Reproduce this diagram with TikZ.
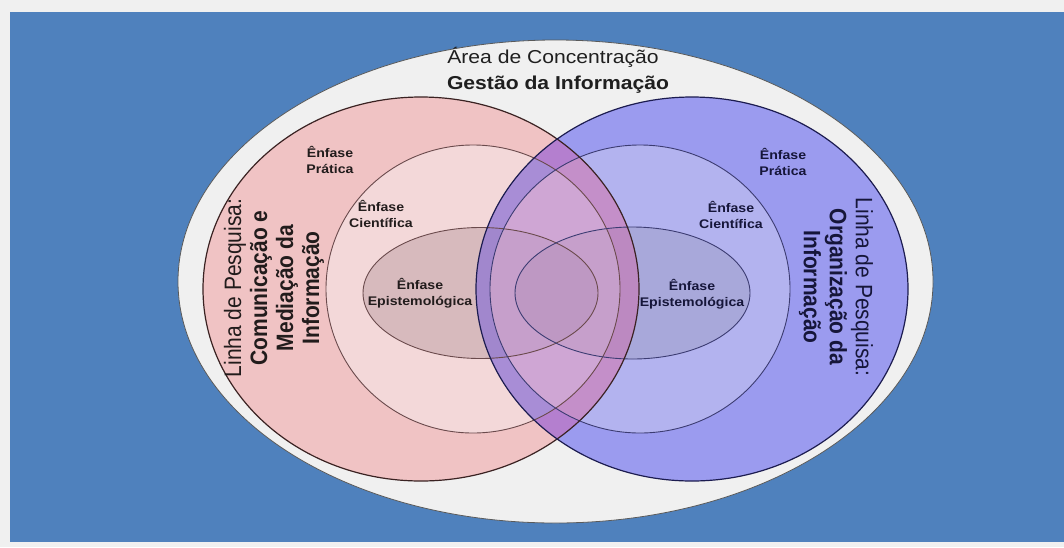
\documentclass[tikz,border=0pt]{standalone}
\usepackage{fontspec}
\setmainfont{Liberation Sans}
\usepackage{graphicx}
\definecolor{bggrey}{HTML}{F0F0F0}
\definecolor{panelblue}{HTML}{4F81BD}
\definecolor{ovalfill}{HTML}{F0F0F0}
\definecolor{ovalline}{HTML}{5A5A5A}
\definecolor{pinkO}{HTML}{F0C3C4}
\definecolor{pinkM}{HTML}{F3D8D9}
\definecolor{pinkI}{HTML}{D7BABD}
\definecolor{blueO}{HTML}{9B9BEF}
\definecolor{blueM}{HTML}{B3B3EF}
\definecolor{blueI}{HTML}{A8A8DA}
\definecolor{lensO}{HTML}{B47FCF}
\definecolor{lensLm}{HTML}{A88DD6}
\definecolor{lensRm}{HTML}{C48FC9}
\definecolor{lensBoth}{HTML}{CFA6D4}
\definecolor{lineL}{HTML}{3A2222}
\definecolor{lineLi}{HTML}{6A4A4C}
\definecolor{lineR}{HTML}{1C1C50}
\definecolor{lineRi}{HTML}{3C3C72}
\definecolor{txtL}{HTML}{221C1C}
\definecolor{txtR}{HTML}{16163A}
\newcommand{\hst}[1]{\scalebox{1.13}[1]{#1}}
\newcommand{\vst}[1]{\scalebox{1}[1.13]{#1}}
\begin{document}
\begin{tikzpicture}[x=1pt,y=-1pt,
  lbl/.style={font=\fontsize{12.5}{16.5}\selectfont\bfseries, align=center, inner sep=0pt},
  rotlbl/.style={font=\fontsize{21}{26}\selectfont, align=center, inner sep=0pt},
  ttl/.style={font=\fontsize{18.7}{22}\selectfont, inner sep=0pt, text=black!88},
  outerline/.style={line width=1.2pt},
  innerline/.style={line width=0.9pt}]
\useasboundingbox (0,0) rectangle (1064,547);
\fill[bggrey] (0,0) rectangle (1064,547);
\fill[panelblue] (10,12) rectangle (1064,542);
% outer oval
\filldraw[fill=ovalfill, draw=ovalline, line width=0.8pt] (555.5,281.5) ellipse [x radius=377.5pt, y radius=241.5pt];
% left stack
\fill[pinkO] (421,289) ellipse [x radius=218pt, y radius=192pt];
\fill[pinkM] (473,289) ellipse [x radius=147pt, y radius=144pt];
\fill[pinkI] (480.5,293) ellipse [x radius=117.5pt, y radius=65.5pt];
% right stack
\fill[blueO] (692,289) ellipse [x radius=216pt, y radius=192pt];
\fill[blueM] (640,289) ellipse [x radius=150pt, y radius=144pt];
\fill[blueI] (632.5,293) ellipse [x radius=117.5pt, y radius=66pt];
% lens
\begin{scope}
  \clip (421,289) ellipse [x radius=218pt, y radius=192pt];
  \clip (692,289) ellipse [x radius=216pt, y radius=192pt];
  \fill[lensO] (400,80) rectangle (720,500);
  \fill[lensLm] (473,289) ellipse [x radius=147pt, y radius=144pt];
  \fill[lensRm] (640,289) ellipse [x radius=150pt, y radius=144pt];
  \begin{scope}
    \clip (473,289) ellipse [x radius=147pt, y radius=144pt];
    \fill[lensBoth] (640,289) ellipse [x radius=150pt, y radius=144pt];
  \end{scope}
  \fill[black, fill opacity=0.04] (480.5,293) ellipse [x radius=117.5pt, y radius=65.5pt];
  \fill[black, fill opacity=0.04] (632.5,293) ellipse [x radius=117.5pt, y radius=66pt];
\end{scope}
% outlines
\draw[lineLi, innerline] (473,289) ellipse [x radius=147pt, y radius=144pt];
\draw[lineLi, innerline] (480.5,293) ellipse [x radius=117.5pt, y radius=65.5pt];
\draw[lineRi, innerline] (640,289) ellipse [x radius=150pt, y radius=144pt];
\draw[lineRi, innerline] (632.5,293) ellipse [x radius=117.5pt, y radius=66pt];
\draw[lineL, outerline] (421,289) ellipse [x radius=218pt, y radius=192pt];
\draw[lineR, outerline] (692,289) ellipse [x radius=216pt, y radius=192pt];
% titles
\node[ttl, anchor=base] (t1) at (553,63) {\hst{Área de Concentração}};
\node[ttl, font=\fontsize{18.7}{22}\selectfont\bfseries, anchor=base] (t2) at (558,89) {\hst{Gestão da Informação}};
% left labels
\node[lbl, text=txtL] (lprat) at (330,160) {\hst{Ênfase}\\\hst{Prática}};
\node[lbl, text=txtL] (lcien) at (381,214) {\hst{Ênfase}\\\hst{Científica}};
\node[lbl, text=txtL] (lepis) at (420,293) {\hst{Ênfase}\\\hst{Epistemológica}};
% right labels
\node[lbl, text=txtR] (rprat) at (783,162) {\hst{Ênfase}\\\hst{Prática}};
\node[lbl, text=txtR] (rcien) at (731,215) {\hst{Ênfase}\\\hst{Científica}};
\node[lbl, text=txtR] (repis) at (692,294) {\hst{Ênfase}\\\hst{Epistemológica}};
% rotated line labels
\node[rotlbl, text=txtL, rotate=90] (lline) at (274,288)
  {\vst{Linha de Pesquisa:}\\\vst{\textbf{Comunicação e}}\\\vst{\textbf{Mediação da}}\\\vst{\textbf{Informação}}};
\node[rotlbl, text=txtR, rotate=-90] (rline) at (836,287)
  {\vst{Linha de Pesquisa:}\\\vst{\textbf{Organização da}}\\\vst{\textbf{Informação}}};
\end{tikzpicture}
\end{document}
